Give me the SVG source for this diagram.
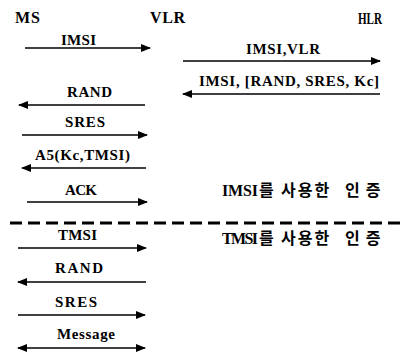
<svg xmlns="http://www.w3.org/2000/svg" width="402" height="355" viewBox="0 0 402 355">
<style>
.t{font-family:"Liberation Serif","Noto Sans CJK KR",serif;font-weight:bold;font-size:15px;fill:#000}
.h{font-size:16px}
.k{font-family:"Noto Sans CJK KR",sans-serif;font-weight:bold;font-size:16px;fill:#000}
.a{stroke:#000;stroke-width:1.6;fill:none}
.d{stroke:#000;stroke-width:3;stroke-dasharray:12 6;fill:none}
</style>
<defs>
<marker id="ah" viewBox="0 0 10 8" refX="9" refY="4" markerWidth="10" markerHeight="8" markerUnits="userSpaceOnUse" orient="auto-start-reverse">
<path d="M0,0 L10,4 L0,8 z" fill="#000"/>
</marker>
</defs>
<rect width="402" height="355" fill="#fff"/>
<g id="MS"><text class="t h" x="15" y="23" textLength="25" lengthAdjust="spacing">MS</text></g>
<g id="VLR"><text class="t h" x="150" y="23" textLength="35" lengthAdjust="spacing">VLR</text></g>
<g id="HLR"><text class="t h" x="358" y="24" textLength="24" lengthAdjust="spacingAndGlyphs">HLR</text></g>
<g id="connectors">
<line class="a" x1="25" y1="48" x2="150" y2="48" marker-end="url(#ah)"/>
<line class="a" x1="183" y1="61" x2="380" y2="61" marker-end="url(#ah)"/>
<line class="a" x1="380" y1="94" x2="183" y2="94" marker-end="url(#ah)"/>
<line class="a" x1="145" y1="105" x2="19" y2="105" marker-end="url(#ah)"/>
<line class="a" x1="22" y1="135" x2="147" y2="135" marker-end="url(#ah)"/>
<line class="a" x1="146" y1="168" x2="22" y2="168" marker-end="url(#ah)"/>
<line class="a" x1="27" y1="202" x2="147" y2="202" marker-end="url(#ah)"/>
<line class="d" x1="10" y1="223" x2="400" y2="223"/>
<line class="a" x1="18" y1="248" x2="146" y2="248" marker-end="url(#ah)"/>
<line class="a" x1="146" y1="282" x2="18" y2="282" marker-end="url(#ah)"/>
<line class="a" x1="18" y1="315" x2="145" y2="315" marker-end="url(#ah)"/>
<line class="a" x1="18" y1="348" x2="145" y2="348" marker-start="url(#ah)" marker-end="url(#ah)"/>
</g>
<g id="labels">
<text class="t" x="61" y="45" textLength="35" lengthAdjust="spacing">IMSI</text>
<text class="t" x="246" y="54" textLength="74" lengthAdjust="spacing">IMSI,VLR</text>
<text class="t" x="199" y="86" textLength="180" lengthAdjust="spacing">IMSI, [RAND, SRES, Kc]</text>
<text class="t" x="67" y="97" textLength="45" lengthAdjust="spacing">RAND</text>
<text class="t" x="65" y="127" textLength="40" lengthAdjust="spacing">SRES</text>
<text class="t" x="35" y="160" textLength="95" lengthAdjust="spacing">A5(Kc,TMSI)</text>
<text class="t" x="65" y="195" textLength="32" lengthAdjust="spacing">ACK</text>
<text class="t" x="58" y="240" textLength="39" lengthAdjust="spacing">TMSI</text>
<text class="t" x="55" y="273" textLength="48" lengthAdjust="spacing">RAND</text>
<text class="t" x="55" y="307" textLength="42" lengthAdjust="spacing">SRES</text>
<text class="t" x="57" y="339" textLength="58" lengthAdjust="spacing">Message</text>
</g>
<g id="imsi-auth">
<text class="t h" x="222" y="196" textLength="36" lengthAdjust="spacing">IMSI</text>
<text class="k" y="196"><tspan x="259">를</tspan><tspan x="281" letter-spacing="2">사용한</tspan><tspan x="345" letter-spacing="6">인증</tspan></text>
</g>
<g id="tmsi-auth">
<text class="t h" x="222" y="244" textLength="36" lengthAdjust="spacing">TMSI</text>
<text class="k" y="244"><tspan x="259">를</tspan><tspan x="281" letter-spacing="2">사용한</tspan><tspan x="345" letter-spacing="6">인증</tspan></text>
</g>
</svg>
